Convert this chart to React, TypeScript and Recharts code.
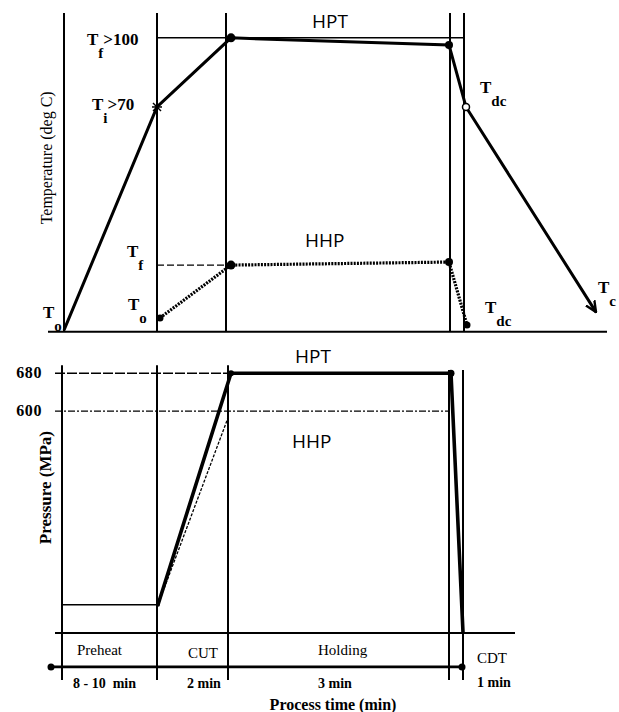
import { ComposedChart, Line, Scatter, XAxis, YAxis, ReferenceLine } from 'recharts';

// schematic time axis shared by both panels (0 = start of preheat)
const timeDomain: [number, number] = [-6.4, 55.5];
const tempDomain: [number, number] = [-3, 120];
const pressureDomain: [number, number] = [-34, 750];

// ---------- temperature panel
const hptTemperature = [
  { t: 0, temp: 0.6 },
  { t: 9.3, temp: 81.3 },
  { t: 16.7, temp: 106.3 },
  { t: 38.5, temp: 103.7 },
  { t: 40.2, temp: 81.3 },
  { t: 53.2, temp: 7.1 },
];
const hhpTemperature = [
  { t: 9.6, temp: 5.0 },
  { t: 16.7, temp: 24.1 },
  { t: 38.5, temp: 25.2 },
  { t: 40.3, temp: 2.4 },
];
const tempPhaseLines = [0, 9.3, 16.2, 38.6, 40.0];
const tempLineTop = 115.3;
const hptTargetTemp = 106.3;
const hhpTargetTemp = 24.1;

const tempSymbols = [
  { t: 2.3, temp: 103.7, main: 'T', sub: 'f', tail: '>100' },
  { t: 2.8, temp: 80.2, main: 'T', sub: 'i', tail: '>70' },
  { t: 6.3, temp: 27.0, main: 'T', sub: 'f', tail: '' },
  { t: 6.4, temp: 7.9, main: 'T', sub: 'o', tail: '' },
  { t: -2.1, temp: 5.0, main: 'T', sub: 'o', tail: '' },
  { t: 41.6, temp: 86.3, main: 'T', sub: 'dc', tail: '' },
  { t: 42.1, temp: 6.8, main: 'T', sub: 'dc', tail: '' },
  { t: 53.4, temp: 14.0, main: 'T', sub: 'c', tail: '' },
];
const tempSeriesNames = [
  { t: 24.8, temp: 109.9, name: 'HPT' },
  { t: 24.1, temp: 30.6, name: 'HHP' },
];
const tempTitle = [{ t: -1.2, temp: 62.9, text: 'Temperature (deg C)' }];

// ---------- pressure panel
const preheatPressure = [
  { t: -0.2, p: 192 },
  { t: 9.4, p: 192 },
];
const hptPressure = [
  { t: 9.4, p: 192 },
  { t: 16.7, p: 680 },
  { t: 38.7, p: 680 },
  { t: 39.9, p: 134 },
];
const hhpPressure = [
  { t: 9.4, p: 192 },
  { t: 16.4, p: 586 },
];
const pressureTicks = [680, 600];
const pressurePhaseLines = [
  { t: -0.2, top: 697 },
  { t: 9.3, top: 697 },
  { t: 16.4, top: 697 },
  { t: 38.5, top: 687 },
  { t: 39.9, top: 687 },
];
const tableRowP = 132.5;
const timelineP = 61;
const timeline = [
  { t: -1.3, p: timelineP },
  { t: 39.8, p: timelineP },
];

const phases = [
  { name: 'Preheat', t: 1.3, p: 86 },
  { name: 'CUT', t: 12.4, p: 80 },
  { name: 'Holding', t: 25.4, p: 86 },
  { name: 'CDT', t: 41.3, p: 69 },
];
const phaseDurations = [
  { label: '8 - 10  min', t: 0.9, p: 16.6 },
  { label: '2 min', t: 12.3, p: 16.6 },
  { label: '3 min', t: 25.4, p: 16.6 },
  { label: '1 min', t: 41.3, p: 18.7 },
];
const pressureSeriesNames = [
  { t: 23.1, p: 701.5, name: 'HPT' },
  { t: 22.8, p: 522.4, name: 'HHP' },
];
const pressureTitle = [{ t: -1.3, p: 439, text: 'Pressure (MPa)' }];
const timeTitle = [{ t: 26.9, p: -29.8, text: 'Process time (min)' }];

const serif = '"Liberation Serif", "Times New Roman", serif';
const sans = '"Open Sans", "Noto Sans", sans-serif';

const SymbolNote = (props: any) => {
  const { cx, cy, payload } = props;
  return (
    <text x={cx} y={cy} fontFamily={serif} fontWeight="bold" fontSize={17} fill="#000">
      <tspan>{payload.main}</tspan>
      <tspan dy={13} fontSize={15}>{payload.sub}</tspan>
      {payload.tail ? <tspan dy={-13} fontSize={17}>{payload.tail}</tspan> : null}
    </text>
  );
};

const SeriesName = (props: any) => (
  <text x={props.cx} y={props.cy} fontFamily={sans} fontSize={19} fill="#000">
    {props.payload.name}
  </text>
);

const AxisTitle = (props: any) => {
  const { cx, cy, payload, bold, size } = props;
  return (
    <text
      x={cx}
      y={cy}
      transform={`rotate(-90 ${cx} ${cy})`}
      textAnchor="middle"
      fontFamily={serif}
      fontWeight={bold ? 'bold' : 'normal'}
      fontSize={size}
      fill="#000"
    >
      {payload.text}
    </text>
  );
};

const PlainNote = (props: any) => {
  const { cx, cy, payload, bold, size, anchor } = props;
  return (
    <text
      x={cx}
      y={cy}
      textAnchor={anchor || 'start'}
      fontFamily={serif}
      fontWeight={bold ? 'bold' : 'normal'}
      fontSize={size}
      fill="#000"
      style={{ whiteSpace: 'pre' }}
    >
      {payload.text ?? payload.name ?? payload.label}
    </text>
  );
};

const TickNote = (props: any) => (
  <text x={props.cx} y={props.cy} dy={5} textAnchor="end" fontFamily={serif} fontWeight="bold" fontSize={16} letterSpacing={0.6} fill="#000">
    {props.payload.p}
  </text>
);

const hptTempDot = (props: any) => {
  const { cx, cy, index } = props;
  const key = `hpt-t-${index}`;
  if (index === 1)
    return (
      <g key={key} stroke="#000" strokeWidth={1.5}>
        <line x1={cx - 4} y1={cy - 4} x2={cx + 4} y2={cy + 4} />
        <line x1={cx - 4} y1={cy + 4} x2={cx + 4} y2={cy - 4} />
        <line x1={cx - 5} y1={cy} x2={cx + 5} y2={cy} />
      </g>
    );
  if (index === 2) return <circle key={key} cx={cx} cy={cy} r={4.5} fill="#000" />;
  if (index === 3) return <circle key={key} cx={cx} cy={cy} r={4} fill="#000" />;
  if (index === 4) return <circle key={key} cx={cx} cy={cy} r={3.5} fill="#fff" stroke="#000" strokeWidth={1.5} />;
  return <g key={key} />;
};

const hhpTempDot = (props: any) => {
  const { cx, cy, index } = props;
  const r = [3.5, 4.5, 4, 3.5][index] ?? 3;
  return <circle key={`hhp-t-${index}`} cx={cx} cy={cy} r={r} fill="#000" />;
};

const hptPressureDot = (props: any) => {
  const { cx, cy, index } = props;
  const r = [2, 3, 3.5, 0][index] ?? 0;
  return <circle key={`hpt-p-${index}`} cx={cx} cy={cy} r={r} fill="#000" />;
};

const timelineDot = (props: any) => (
  <circle key={`tl-${props.index}`} cx={props.cx} cy={props.cy} r={3.5} fill="#000" />
);

function TemperaturePanel() {
  return (
    <ComposedChart width={619} height={340} margin={{ top: 0, right: 0, bottom: 0, left: 0 }}>
      <XAxis type="number" dataKey="t" domain={timeDomain} allowDataOverflow hide />
      <YAxis type="number" domain={tempDomain} allowDataOverflow hide />

      {tempPhaseLines.map((t) => (
        <ReferenceLine key={`v${t}`} segment={[{ x: t, y: 0 }, { x: t, y: tempLineTop }]} stroke="#000" strokeWidth={2} />
      ))}
      <ReferenceLine segment={[{ x: -1.6, y: 0 }, { x: 54.3, y: 0 }]} stroke="#000" strokeWidth={2} />
      <ReferenceLine segment={[{ x: 9.3, y: hptTargetTemp }, { x: 40.0, y: hptTargetTemp }]} stroke="#000" strokeWidth={1.5} />
      <ReferenceLine
        segment={[{ x: 9.3, y: hhpTargetTemp }, { x: 16.7, y: hhpTargetTemp }]}
        stroke="#000"
        strokeWidth={1.2}
        strokeDasharray="7 3"
      />

      <Line
        data={hptTemperature}
        dataKey="temp"
        type="linear"
        stroke="#000"
        strokeWidth={3}
        dot={hptTempDot}
        activeDot={false}
        markerEnd="url(#arrowhead)"
        isAnimationActive={false}
      />
      <Line
        data={hhpTemperature}
        dataKey="temp"
        type="linear"
        stroke="#000"
        strokeWidth={3.2}
        strokeDasharray="2 1.2"
        dot={hhpTempDot}
        activeDot={false}
        isAnimationActive={false}
      />

      <Scatter data={tempSymbols} dataKey="temp" shape={(p: any) => <SymbolNote {...p} />} isAnimationActive={false} />
      <Scatter data={tempSeriesNames} dataKey="temp" shape={(p: any) => <SeriesName {...p} />} isAnimationActive={false} />
      <Scatter data={tempTitle} dataKey="temp" shape={(p: any) => <AxisTitle {...p} size={16} />} isAnimationActive={false} />
    </ComposedChart>
  );
}

function PressurePanel() {
  return (
    <ComposedChart width={619} height={372} margin={{ top: 0, right: 0, bottom: 0, left: 0 }}>
      <XAxis type="number" dataKey="t" domain={timeDomain} allowDataOverflow hide />
      <YAxis type="number" domain={pressureDomain} allowDataOverflow hide />

      {pressurePhaseLines.map((l) => (
        <ReferenceLine key={`v${l.t}`} segment={[{ x: l.t, y: 33.5 }, { x: l.t, y: l.top }]} stroke="#000" strokeWidth={2} />
      ))}
      <ReferenceLine
        segment={[{ x: -0.9, y: 680 }, { x: 16.7, y: 680 }]}
        stroke="#000"
        strokeWidth={1.5}
        strokeDasharray="10 2"
      />
      <ReferenceLine
        segment={[{ x: -0.9, y: 600 }, { x: 38.4, y: 600 }]}
        stroke="#000"
        strokeWidth={1.2}
        strokeDasharray="7 2 2 2"
      />
      <ReferenceLine segment={[{ x: -0.9, y: tableRowP }, { x: 45.1, y: tableRowP }]} stroke="#000" strokeWidth={2} />

      <Line data={timeline} dataKey="p" type="linear" stroke="#000" strokeWidth={2.6} dot={timelineDot} activeDot={false} isAnimationActive={false} />
      <Line data={preheatPressure} dataKey="p" type="linear" stroke="#000" strokeWidth={1.6} dot={false} activeDot={false} isAnimationActive={false} />
      <Line
        data={hhpPressure}
        dataKey="p"
        type="linear"
        stroke="#000"
        strokeWidth={1.3}
        strokeDasharray="3 1.5"
        dot={false}
        activeDot={false}
        isAnimationActive={false}
      />
      <Line data={hptPressure} dataKey="p" type="linear" stroke="#000" strokeWidth={3.6} dot={hptPressureDot} activeDot={false} isAnimationActive={false} />

      <Scatter data={pressureTicks.map((p) => ({ t: -2.2, p }))} dataKey="p" shape={(p: any) => <TickNote {...p} />} isAnimationActive={false} />
      <Scatter data={pressureSeriesNames} dataKey="p" shape={(p: any) => <SeriesName {...p} />} isAnimationActive={false} />
      <Scatter data={pressureTitle} dataKey="p" shape={(p: any) => <AxisTitle {...p} bold size={17} />} isAnimationActive={false} />
      <Scatter data={phases} dataKey="p" shape={(p: any) => <PlainNote {...p} size={15} />} isAnimationActive={false} />
      <Scatter data={phaseDurations} dataKey="p" shape={(p: any) => <PlainNote {...p} bold size={14} />} isAnimationActive={false} />
      <Scatter data={timeTitle} dataKey="p" shape={(p: any) => <PlainNote {...p} bold size={16} anchor="middle" />} isAnimationActive={false} />
    </ComposedChart>
  );
}

export default function App() {
  return (
    <div style={{ position: 'absolute', left: 0, top: 0, width: 619, height: 712, background: '#fff' }}>
      <svg width={0} height={0} style={{ position: 'absolute' }}>
        <defs>
          <marker
            id="arrowhead"
            viewBox="0 0 12 12"
            refX={11}
            refY={6}
            markerWidth={12}
            markerHeight={12}
            markerUnits="userSpaceOnUse"
            orient="auto"
          >
            <path d="M0,1 L11,6 L0,11" fill="none" stroke="#000" strokeWidth={2.4} />
          </marker>
        </defs>
      </svg>
      <div style={{ position: 'absolute', left: 0, top: 0 }}>
        <TemperaturePanel />
      </div>
      <div style={{ position: 'absolute', left: 0, top: 340 }}>
        <PressurePanel />
      </div>
    </div>
  );
}
